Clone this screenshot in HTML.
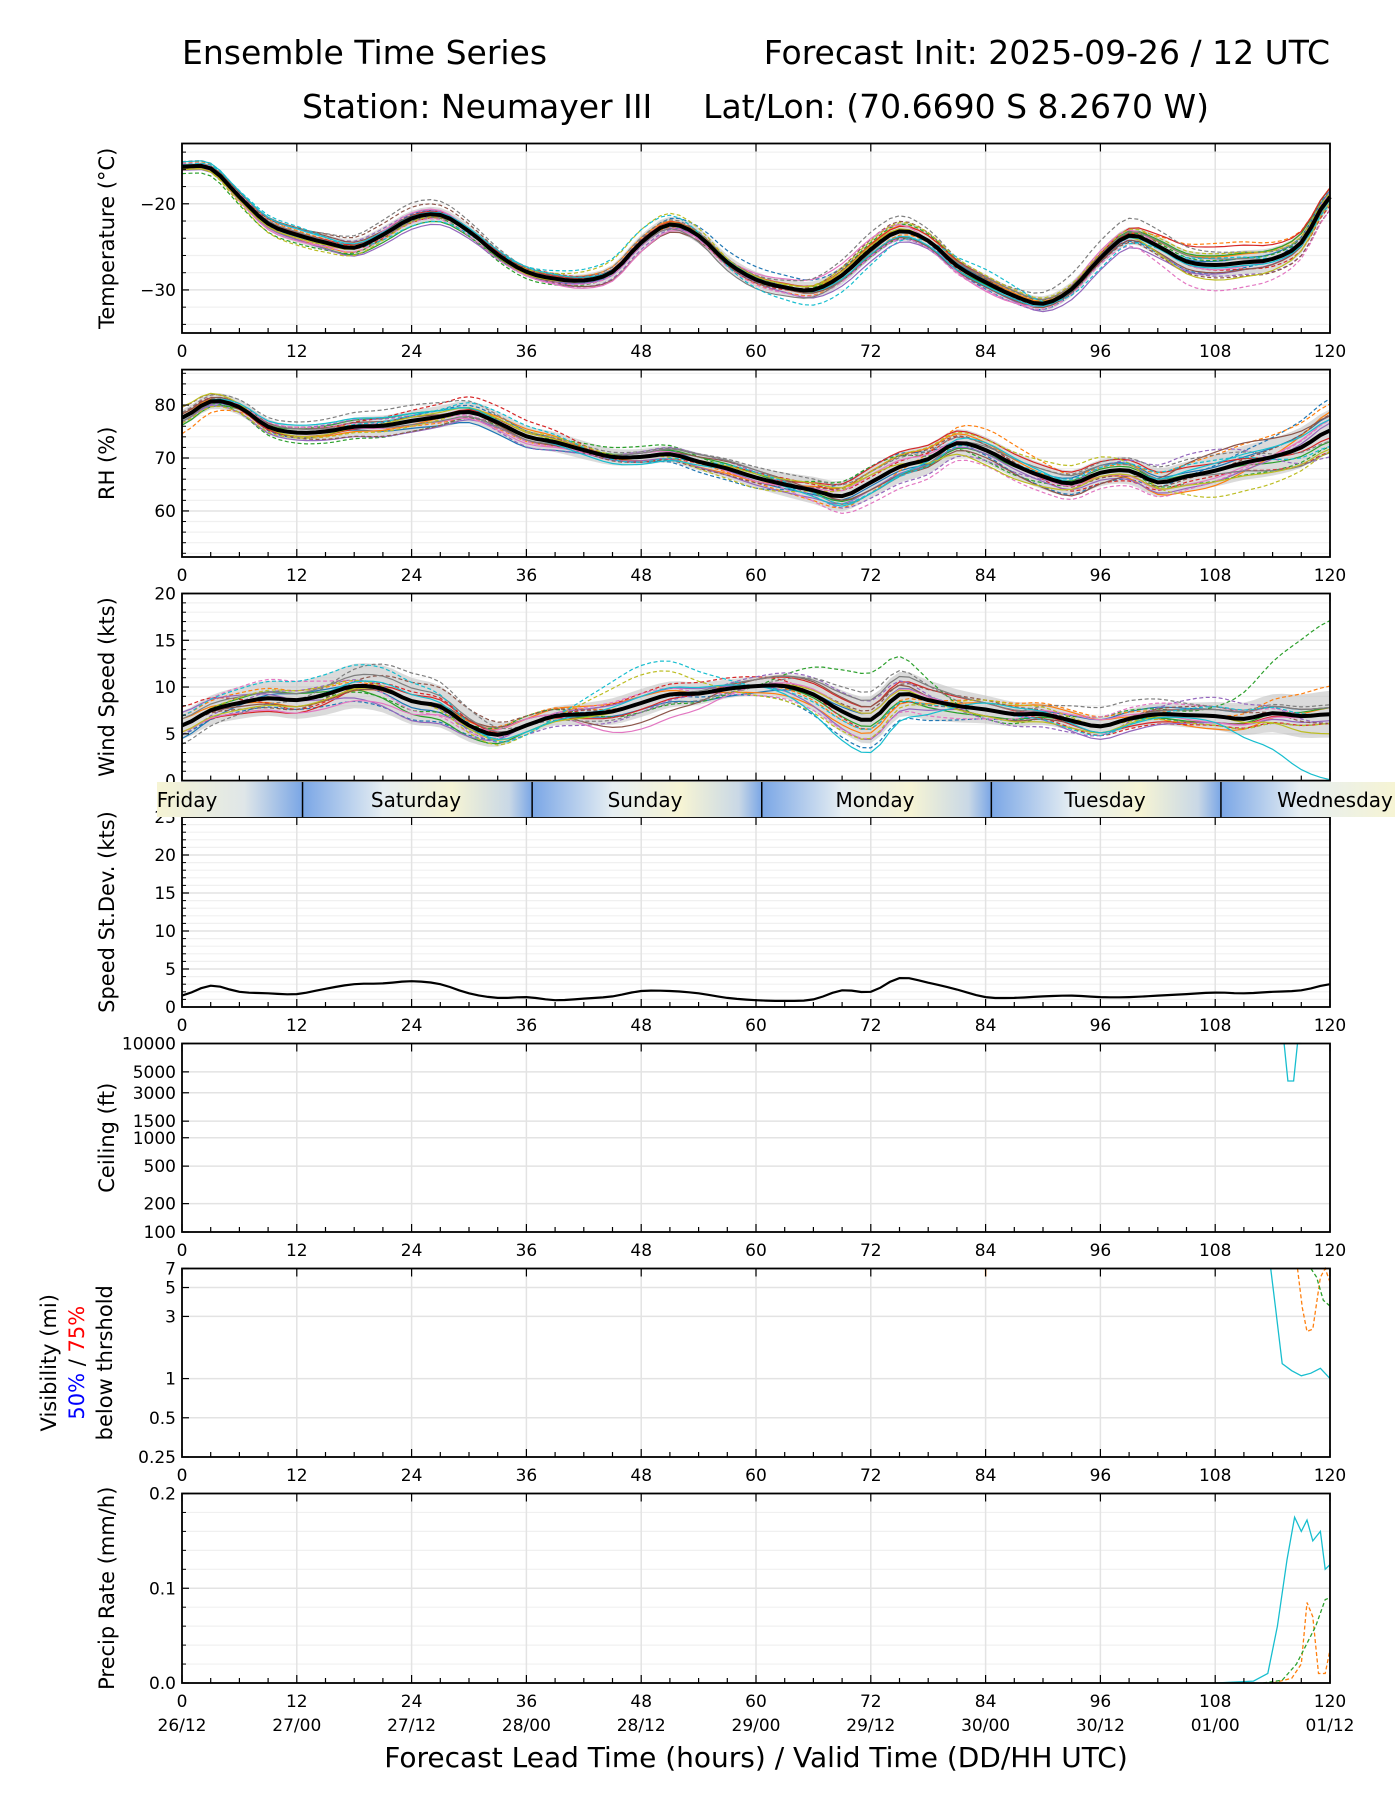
<!DOCTYPE html>
<html><head><meta charset="utf-8"><style>
html,body{margin:0;padding:0;background:#fff;}
svg{display:block;font-family:"DejaVu Sans","Liberation Sans",sans-serif;}
</style></head><body>
<svg id="chart" width="1400" height="1800" viewBox="0 0 1400 1800" xmlns="http://www.w3.org/2000/svg">
<defs>
<linearGradient id="dayg" x1="0" x2="1" y1="0" y2="0">
<stop offset="0" stop-color="#7aa6e6"/><stop offset="0.35" stop-color="#e6eef2"/><stop offset="0.65" stop-color="#f6f4d4"/><stop offset="0.9" stop-color="#c9d8e6"/><stop offset="1" stop-color="#7aa6e6"/>
</linearGradient>
<linearGradient id="dayf" x1="0" x2="1" y1="0" y2="0">
<stop offset="0" stop-color="#f6f4d4"/><stop offset="0.6" stop-color="#dfe6e8"/><stop offset="1" stop-color="#7aa6e6"/>
</linearGradient>
<linearGradient id="dayw" x1="0" x2="1" y1="0" y2="0">
<stop offset="0" stop-color="#7aa6e6"/><stop offset="0.45" stop-color="#e6eef2"/><stop offset="1" stop-color="#f6f4d4"/>
</linearGradient>
</defs>
<text x="182" y="64" font-size="33">Ensemble Time Series</text>
<text x="1330" y="64" font-size="33" text-anchor="end">Forecast Init: 2025-09-26 / 12 UTC</text>
<text x="302" y="118" font-size="33">Station: Neumayer III</text>
<text x="1209" y="118" font-size="33" text-anchor="end">Lat/Lon: (70.6690 S 8.2670 W)</text>
<text x="756" y="1767" font-size="28" text-anchor="middle">Forecast Lead Time (hours) / Valid Time (DD/HH UTC)</text>
<g id="g"></g>
</svg>
<script>
// ---- data (3-hourly means, 0..120h) ----
const hours3 = [0,3,6,9,12,15,18,21,24,27,30,33,36,39,42,45,48,51,54,57,60,63,66,69,72,75,78,81,84,87,90,93,96,99,102,105,108,111,114,117,120];
const tempMean = [-15.7,-15.9,-19.2,-22.3,-23.6,-24.5,-25.1,-23.6,-21.7,-21.3,-23.2,-25.9,-27.9,-28.7,-28.9,-27.9,-24.5,-22.4,-23.7,-26.8,-28.8,-29.7,-30,-28.3,-25.3,-23.2,-24.3,-27.2,-29.1,-30.7,-31.6,-29.9,-26.3,-23.7,-24.9,-26.7,-27.1,-26.8,-26.4,-24.5,-19.2];
const rhMean = [77.6,80.7,79.6,75.9,74.8,75,75.9,76.1,77,77.8,78.7,76.7,74.1,73,71.5,70.2,70.2,70.7,69.3,68,66.3,65,63.9,62.8,65.4,68.3,69.8,72.8,71.5,68.7,66.5,65.2,67.2,67.6,65.4,66.5,67.6,69.1,70.2,72,75.2];
const windMean = [5.9,7.5,8.3,8.8,8.6,9.2,10.1,9.8,8.5,7.9,5.9,4.9,5.9,6.9,7.1,7.4,8.3,9.2,9.3,9.8,10.1,10.1,9.2,7.4,6.5,9.2,8.6,8.0,7.6,7.1,7.1,6.4,5.8,6.6,7.1,7.0,6.9,6.6,7.2,6.9,7.1];
const speedStd = [1.5,2.8,2.0,1.8,1.7,2.4,3.0,3.1,3.4,3.0,1.8,1.2,1.3,0.9,1.1,1.4,2.1,2.1,1.8,1.2,0.9,0.8,1.0,2.2,2.0,3.8,3.2,2.3,1.3,1.2,1.4,1.5,1.3,1.3,1.5,1.7,1.9,1.8,2.0,2.2,3.0];
// ---- member deviations (12-hourly, 0..120h) ----
const tempDev = [
[0.3,-0.5,0.5,-0.3,0.4,1.5,0.5,-0.8,-0.5,-1,1],
[0.5,0.5,0,0.4,-0.2,-0.5,-0.6,0.2,-0.3,2.5,1],
[-0.8,-1,-0.3,-0.8,-0.2,-0.3,0.8,0.6,0.3,0.5,0.5],
[0.2,0.3,-0.5,0.6,0.1,-0.4,0.3,-0.5,0.4,-0.6,-1],
[0,0.7,0.6,-0.4,-0.8,0.3,-0.9,-0.6,-0.3,-1.3,-1.5],
[-0.3,0.8,1.3,0.3,0.2,-0.4,1.2,0.4,-0.5,-1.5,-1.5],
[0.4,-0.4,-0.5,-0.5,-0.4,-0.6,-0.8,-0.9,-0.7,-3,-1.5],
[0.6,0.8,1.8,0.5,0.6,0.5,2,0.7,2,1.5,0.3],
[-0.2,-1.2,-0.4,0.3,1.5,0.2,1,0.8,0.6,1.3,0.5],
[0.2,1,-0.9,0.6,1.5,-1,-1.8,1.5,-1.2,0.8,-0.8]];
const rhDev = [
[1,-1,1,1,-1,-2,3,-1,-2,1,6],
[-3,1,-1,-1,0,-1,-2,4,1,3,5],
[0,-2,-2,0,2,0,3,-2,0,-2,-3],
[1,0,2,3,-1,1,1,1,-2,-1,-4],
[-1,1,1,-2,1,1,-3,-2,1,4,-5],
[2,-1,-2,0,-1,-1,2,1,-1,0,3],
[0,1,0,-1,0,0,-4,-3,-3,-2,2],
[1,2,3,1,1,2,2,1,2,3,-2],
[-1,-1,-1,1,0,-2,2,2,3,-5,-4],
[0,0,1,2,-1,1,-2,0,1,2,-3]];
const windDev = [
[-1,-1,-2,0,0,-1,-3,-1,0,-1,-1],
[1,1,0,1,0,0,-1,1,1,0,3],
[0,0,-1,1,-1,0,5,-1,1,1,10],
[2,-1,1,0,1,1,-1,0,-1,-1,-1],
[-1,1,0,-1,-1,1,2,-1,-1,2,-1],
[0,-1,2,1,0,0,1,1,0,1,-1],
[1,2,-1,0,1,-1,-2,-1,1,1,0],
[-2,0,3,0,-1,0,3,0,2,1,1],
[0,1,0,-1,3,-1,-2,1,0,-1,-1],
[1,2,2,-1,4,0,-1,0,-1,1,0]];
const tempBand = [0.4,0.9,0.9,0.6,0.9,0.9,1.1,0.9,0.9,1.4,1.2];
const rhBand = [1.5,1.5,2,2,1.5,2,3,2.5,2.5,3,4];
const windBand = [1.5,2,2.5,1,1.5,1,2.5,1.5,1,1.5,2.5];
// sparse series for lower panels
const visHours = [113.8,114.3,115,116,117,118,119,120];
const visCyan = [7,3.5,1.3,1.15,1.05,1.1,1.2,1.0];
const visOrHours = [116.6,117.1,117.6,118.2,119,119.5,120];
const visOrange = [7,3.5,2.3,2.4,6,7,5.5];
const visGrHours = [118,118.6,119.3,120];
const visGreen = [7,6,4,3.6];
const prHours = [108,112,113.5,114.5,115.5,116.3,117,117.6,118.2,119,119.5,120];
const prCyan = [0,0.002,0.01,0.06,0.13,0.175,0.16,0.172,0.15,0.16,0.12,0.125];
const prOrHours = [114,116,117,117.6,118.2,118.8,119.5,120];
const prOrange = [0,0.005,0.02,0.085,0.07,0.01,0.01,0.035];
const prGrHours = [113,115,116.5,117.5,118.5,119.5,120];
const prGreen = [0,0.003,0.02,0.04,0.06,0.088,0.09];
const xTicks = [0,12,24,36,48,60,72,84,96,108,120];
const dateLabels = ["26/12","27/00","27/12","28/00","28/12","29/00","29/12","30/00","30/12","01/00","01/12"];
const dayNames = ["Friday","Saturday","Sunday","Monday","Tuesday","Wednesday"];
const colors = ["#1f77b4","#ff7f0e","#2ca02c","#d62728","#9467bd","#8c564b","#e377c2","#7f7f7f","#bcbd22","#17becf"];

const NS="http://www.w3.org/2000/svg";
const root=document.getElementById('g');
function el(tag,attrs,parent){const e=document.createElementNS(NS,tag);for(const k in attrs)e.setAttribute(k,attrs[k]);(parent||root).appendChild(e);return e;}
const X0=182,X1=1330;
function xs(h){return X0+h/120*(X1-X0);}
function cr(arr,step,h){const n=arr.length;let t=h/step;let i=Math.floor(t);if(i>=n-1)return arr[n-1];const f=t-i;
 const p0=arr[Math.max(i-1,0)],p1=arr[i],p2=arr[i+1],p3=arr[Math.min(i+2,n-1)];
 return 0.5*((2*p1)+(-p0+p2)*f+(2*p0-5*p1+4*p2-p3)*f*f+(-p0+3*p1-3*p2+p3)*f*f*f);}

const panels=[
 {key:'temp',top:143.5,bot:333,min:-35,max:-13,label:'Temperature (°C)',ticks:[-20,-30],minor:[-34,-32,-28,-26,-24,-22,-18,-16,-14],fmt:v=>'\u2212'+Math.abs(v)},
 {key:'rh',top:369.6,bot:557,min:51.3,max:86.7,label:'RH (%)',ticks:[60,70,80],minor:[52,54,56,58,62,64,66,68,72,74,76,78,82,84,86],fmt:v=>v},
 {key:'wind',top:593.5,bot:780.6,min:0,max:20,label:'Wind Speed (kts)',ticks:[0,5,10,15,20],minor:[1,2,3,4,6,7,8,9,11,12,13,14,16,17,18,19],fmt:v=>v},
 {key:'sd',top:817,bot:1007,min:0,max:25,label:'Speed St.Dev. (kts)',ticks:[0,5,10,15,20,25],minor:[1,2,3,4,6,7,8,9,11,12,13,14,16,17,18,19,21,22,23,24],fmt:v=>v},
 {key:'ceil',top:1043.5,bot:1232,min:100,max:10000,log:true,label:'Ceiling (ft)',ticks:[100,200,500,1000,1500,3000,5000,10000],minor:[],fmt:v=>v},
 {key:'vis',top:1268.5,bot:1457,min:0.25,max:7,log:true,label:null,ticks:[0.25,0.5,1,3,5,7],minor:[],fmt:v=>v},
 {key:'pr',top:1493.5,bot:1683,min:0,max:0.2,label:'Precip Rate (mm/h)',ticks:[0,0.1,0.2],minor:[0.02,0.04,0.06,0.08,0.12,0.14,0.16,0.18],fmt:v=>v.toFixed(1)}
];
panels.forEach(p=>{p.y=v=>{let f=p.log?(Math.log(v)-Math.log(p.min))/(Math.log(p.max)-Math.log(p.min)):(v-p.min)/(p.max-p.min);return p.bot-f*(p.bot-p.top);};});

function drawFrame(p){
 const g=el('g',{});
 
 
 p.g=g;
 p.minor.forEach(v=>{el('line',{x1:X0,x2:X1,y1:p.y(v),y2:p.y(v),stroke:'#f0f0f0','stroke-width':1.2},g);});
 xTicks.forEach(h=>{el('line',{x1:xs(h),x2:xs(h),y1:p.top,y2:p.bot,stroke:'#e3e3e3','stroke-width':1.5},g);});
 p.ticks.forEach(v=>{el('line',{x1:X0,x2:X1,y1:p.y(v),y2:p.y(v),stroke:'#e3e3e3','stroke-width':1.5},g);});
}
function drawAxes(p){
 const g=el('g',{});
 
 
 el('rect',{x:X0,y:p.top,width:X1-X0,height:p.bot-p.top,fill:'none',stroke:'#000','stroke-width':1.8},g);
 for(let h=0;h<=120;h+=3){const L=(h%12==0)?8:5;
  el('line',{x1:xs(h),x2:xs(h),y1:p.bot,y2:p.bot-L,stroke:'#000','stroke-width':1.2},g);
  if(h%12==0)el('line',{x1:xs(h),x2:xs(h),y1:p.top,y2:p.top+L,stroke:'#000','stroke-width':1.2},g);}
 p.ticks.forEach(v=>{el('line',{x1:X0,x2:X0+7,y1:p.y(v),y2:p.y(v),stroke:'#000','stroke-width':1.2},g);
  const t=el('text',{x:X0-6,y:p.y(v)+6,'font-size':17,'text-anchor':'end'},g);t.textContent=p.fmt(v);});
 p.minor.forEach(v=>{el('line',{x1:X0,x2:X0+4,y1:p.y(v),y2:p.y(v),stroke:'#000','stroke-width':1},g);});
 xTicks.forEach((h,i)=>{const t=el('text',{x:xs(h),y:p.bot+24,'font-size':17,'text-anchor':'middle'},g);t.textContent=h;
  if(p.key==='pr'){const d=el('text',{x:xs(h),y:p.bot+48,'font-size':17,'text-anchor':'middle'},g);d.textContent=dateLabels[i];}});
 if(p.label){const cy=(p.top+p.bot)/2;const t=el('text',{x:0,y:0,'font-size':21,'text-anchor':'middle',transform:`translate(114,${cy}) rotate(-90)`},g);t.textContent=p.label;
  
  }
}
function path(pts){return 'M'+pts.map(q=>q[0].toFixed(1)+','+q[1].toFixed(1)).join('L');}

function ensemble(p,mean,devs,band){
 const up=[],dn=[];
 for(let h=0;h<=120;h+=1){const m=cr(mean,3,h),b=cr(band,12,h);up.push([xs(h),p.y(m+b)]);dn.unshift([xs(h),p.y(m-b)]);}
 const bp=el('path',{d:path(up.concat(dn))+'Z',fill:'#bdbdbd','fill-opacity':0.55,stroke:'none'},p.g);
 
 
 devs.forEach((dv,k)=>{
  [0,1].forEach(variant=>{
   const src=variant?dv:devs[(k+3)%devs.length];
   const s=variant?1:-0.7;
   const pts=[];
   for(let h=0;h<=120;h+=1){let v=cr(mean,3,h)+s*cr(src,12,h);v=Math.max(p.min,Math.min(p.max,v));pts.push([xs(h),p.y(v)]);}
   const line=el('path',{d:path(pts),fill:'none',stroke:colors[k],'stroke-width':1.2,'stroke-dasharray':variant?'4,2.5':'none'},p.g);
   
   
  });
 });
 const mp=[];for(let h=0;h<=120;h+=1)mp.push([xs(h),p.y(cr(mean,3,h))]);
 const ml=el('path',{d:path(mp),fill:'none',stroke:'#000','stroke-width':4},p.g);
 
 
}

panels.forEach(drawFrame);
ensemble(panels[0],tempMean,tempDev,tempBand);
ensemble(panels[1],rhMean,rhDev,rhBand);
ensemble(panels[2],windMean,windDev,windBand);
{const p=panels[3];const pts=[];for(let h=0;h<=120;h+=1)pts.push([xs(h),p.y(cr(speedStd,3,h))]);
 const l=el('path',{d:path(pts),fill:'none',stroke:'#000','stroke-width':2.2},p.g);
 
 }
{const p=panels[4];const ceilH=[115.2,115.6,116.2,116.6,117];const ceilV=[10000,4000,4000,10000,10000];
 const l=el('path',{d:path(ceilH.map((h,i)=>[xs(h),p.y(ceilV[i])])),fill:'none',stroke:'#17becf','stroke-width':1.3},p.g);
 
 }
{const p=panels[5];
 [[visHours,visCyan,'#17becf','none'],[visOrHours,visOrange,'#ff7f0e','4,2.5'],[visGrHours,visGreen,'#2ca02c','4,2.5']].forEach(s=>{
  const pts=s[0].map((h,i)=>[xs(h),p.y(s[1][i])]);
  const l=el('path',{d:path(pts),fill:'none',stroke:s[2],'stroke-width':1.3,'stroke-dasharray':s[3]},p.g);
  
  });
 const m=el('path',{d:`M${xs(84)},${p.top}L${xs(84)},${p.top+8}`,stroke:'#ff7f0e','stroke-width':1.5},p.g);
 
 }
{const p=panels[6];
 [[prHours,prCyan,'#17becf','none'],[prOrHours,prOrange,'#ff7f0e','4,2.5'],[prGrHours,prGreen,'#2ca02c','4,2.5']].forEach(s=>{
  const pts=s[0].map((h,i)=>[xs(h),p.y(s[1][i])]);
  const l=el('path',{d:path(pts),fill:'none',stroke:s[2],'stroke-width':1.3,'stroke-dasharray':s[3]},p.g);
  
  });}
panels.forEach(drawAxes);
{const cy=(panels[5].top+panels[5].bot)/2;
 const t1=el('text',{'font-size':21,'text-anchor':'middle',transform:`translate(56,${cy}) rotate(-90)`});t1.textContent='Visibility (mi)';
 
 
 const t2=el('text',{'font-size':21,'text-anchor':'middle',transform:`translate(84,${cy}) rotate(-90)`});
 const a=el('tspan',{fill:'#0000ff'},t2);a.textContent='50%';const b=el('tspan',{fill:'#000'},t2);b.textContent=' / ';const c=el('tspan',{fill:'#ff0000'},t2);c.textContent='75%';
 
 
 const t3=el('text',{'font-size':21,'text-anchor':'middle',transform:`translate(112,${cy}) rotate(-90)`});t3.textContent='below thrshold';
 
 }
{const g=el('g',{});
 
 
 const T=782,B=817,L=157,R=1395;const bounds=[12.6,36.6,60.6,84.6,108.6];
 const edges=[L].concat(bounds.map(xs)).concat([R]);
 for(let i=0;i<edges.length-1;i++){
  const fill=i==0?'url(#dayf)':(i==edges.length-2?'url(#dayw)':'url(#dayg)');
  el('rect',{x:edges[i],y:T,width:edges[i+1]-edges[i],height:B-T,fill:fill},g);
 }
 bounds.forEach(h=>el('line',{x1:xs(h),x2:xs(h),y1:T,y2:B,stroke:'#000','stroke-width':1.5},g));
 const centers=[187,416,645,875,1105,1335];
 dayNames.forEach((d,i)=>{const t=el('text',{x:centers[i],y:807,'font-size':20,'text-anchor':'middle'},g);t.textContent=d;
  
  });
}
</script>
</body></html>
